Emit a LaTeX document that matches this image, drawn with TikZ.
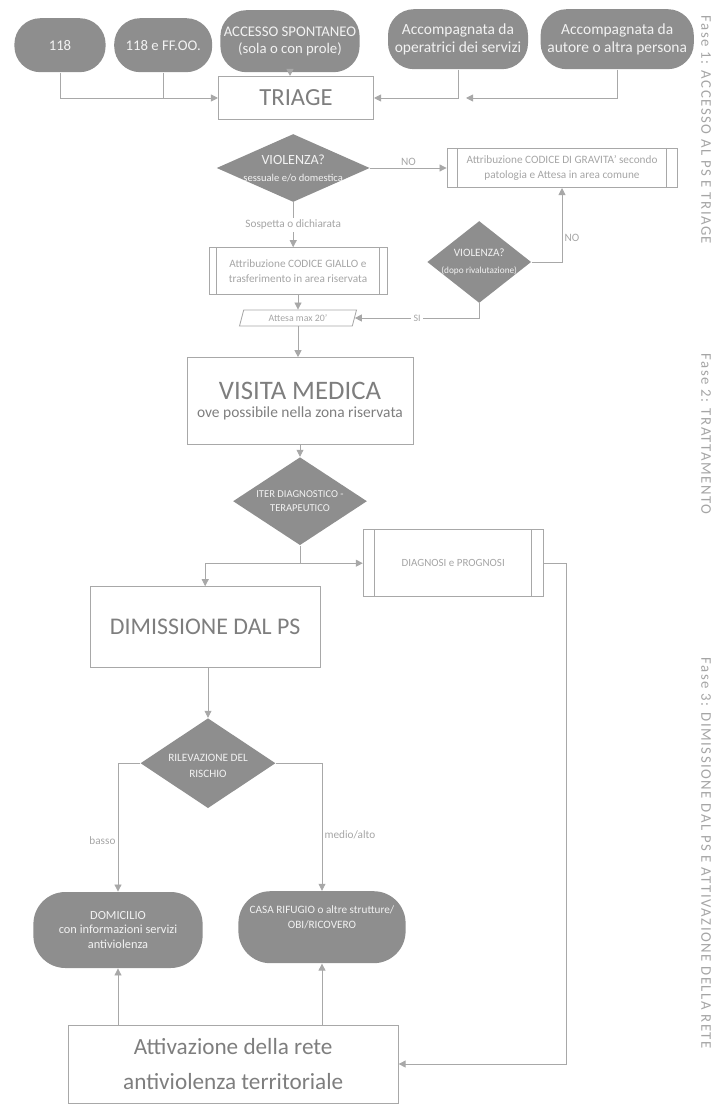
\documentclass[tikz,border=0pt]{standalone}
\usepackage{fontspec}
\setmainfont{Carlito}
\newfontfamily\fasefont[LetterSpace=10]{Carlito}
\usetikzlibrary{arrows.meta,positioning,shapes.geometric,calc}
\definecolor{pillColor}{HTML}{8E8E8E}
\definecolor{pillText}{HTML}{F2F2F2}
\definecolor{lineColor}{HTML}{A8A8A8}
\definecolor{boxText}{HTML}{7E7E7E}
\definecolor{faintText}{HTML}{A5A5A5}
\tikzset{
	pill/.style={fill=pillColor, rounded corners=6.5mm, text=pillText, align=center,
		inner sep=0pt, font=\fontsize{10.5}{12.5}\selectfont},
	box/.style={draw=lineColor, text=boxText, align=center, inner sep=0pt},
	proc/.style={box, text=faintText, font=\fontsize{8}{10.5}\selectfont},
	dec/.style={diamond, fill=pillColor, inner sep=0pt},
	dectext/.style={text=pillText, align=center, inner sep=0pt},
	lbl/.style={text=faintText, font=\fontsize{8}{9}\selectfont, inner sep=1.5pt},
	fase/.style={text=faintText, rotate=-90, font=\fasefont\fontsize{10.5}{12}\selectfont}
}

\begin{document}
\begin{tikzpicture}[->,>={Triangle[length=5pt,width=5pt]},draw=lineColor,line width=0.6pt]
	\useasboundingbox (0,0) rectangle (18.125,-27.75);
	% accessi
	\node[pill, minimum width=2.28cm, minimum height=1.35cm] (p1) at (1.5, -1.13) {118};
	\node[pill, minimum width=2.45cm, minimum height=1.35cm] (p2) at (4.08, -1.13) {118 e FF.OO.};
	\node[pill, minimum width=3.48cm, minimum height=1.55cm] (p3) at (7.25, -1.03) {ACCESSO SPONTANEO\\(sola o con prole)};
	\node[pill, minimum width=3.5cm, minimum height=1.5cm, font=\fontsize{11}{13}\selectfont] (p4) at (11.45, -0.98) {Accompagnata da\\operatrici dei servizi};
	\node[pill, minimum width=3.83cm, minimum height=1.5cm, font=\fontsize{11}{13}\selectfont] (p5) at (15.43, -0.98) {Accompagnata da\\autore o altra persona};
	\node[box, minimum width=3.88cm, minimum height=1.08cm, font=\fontsize{17.5}{20}\selectfont] (triage) at (7.4, -2.45) {TRIAGE};
	\draw[-] (p2.south) -- (p2.south |- triage.west);
	\draw (p1.south) |- (triage.west);
	\draw (p3.south) -- (p3.south |- triage.north);
	\draw (p5.south) |- ($(p4.south |- triage.east)+(0.2,0)$);
	\draw (p4.south) |- (triage.east);
	% fase 1
	\node[dec, minimum width=3.83cm, minimum height=1.7cm] (viol) at (7.33, -4.2) {};
	\node[dectext] (viol_t) at (viol) {{\fontsize{10}{11.5}\selectfont VIOLENZA?}\\{\fontsize{7.5}{9}\selectfont sessuale e/o domestica}};
	\node[proc, minimum width=5.75cm, minimum height=0.98cm] (grav) at (14.05, -4.2) {Attribuzione CODICE DI GRAVITA' secondo\\patologia e Attesa in area comune};
	\node[proc, minimum width=4.45cm, minimum height=1.18cm] (giallo) at (7.45, -6.78) {Attribuzione CODICE GIALLO e\\trasferimento in area riservata};
	\node[dec, minimum width=2.6cm, minimum height=2.05cm] (viol2) at (11.98, -6.55) {};
	\node[dectext] (viol2_t) at (viol2) {{\fontsize{8}{9.5}\selectfont VIOLENZA?}\\{\fontsize{6.6}{8.5}\selectfont (dopo rivalutazione)}};
	\node[box, trapezium, trapezium left angle=72, trapezium right angle=108, trapezium stretches=true,
		minimum width=2.93cm, minimum height=0.4cm, text=faintText, font=\fontsize{7}{8}\selectfont] (attesa) at (7.45, -7.95) {Attesa max 20'};
	\foreach \b/\d in {grav/0.28, giallo/0.2} {
		\draw[-] ([xshift=\d cm]\b.north west) -- ([xshift=\d cm]\b.south west);
		\draw[-] ([xshift=-\d cm]\b.north east) -- ([xshift=-\d cm]\b.south east);
	}
	\path (viol.east) edge node[lbl, above] {NO} (grav.west);
	\draw (viol.south) -- node[lbl, fill=white] {Sospetta o dichiarata} (viol.south |- giallo.north);
	\draw (giallo.south -| attesa.north) -- (attesa.north);
	\draw (viol2.east) -| node[lbl, right, pos=0.66] {NO} (grav.south);
	\draw (viol2.south) |- node[lbl, fill=white, pos=0.75, font=\fontsize{7}{8}\selectfont] {SI} (attesa.east);
	% fase 2
	\node[box, minimum width=5.65cm, minimum height=2.18cm] (visita) at (7.5, -10.03) {{\fontsize{19}{22}\selectfont VISITA MEDICA}\\[1pt]{\fontsize{11}{13}\selectfont ove possibile nella zona riservata}};
	\draw (attesa.south) -- (attesa.south |- visita.north);
	\node[dec, minimum width=3.35cm, minimum height=2.2cm] (iter) at (7.5, -12.53) {};
	\node[dectext, font=\fontsize{7.5}{10}\selectfont] (iter_t) at (iter) {ITER DIAGNOSTICO -\\TERAPEUTICO};
	\draw (visita.south) -- (iter.north);
	\node[proc, minimum width=4.5cm, minimum height=1.68cm, font=\fontsize{7.8}{9}\selectfont] (diagn) at (11.33, -14.08) {DIAGNOSI e PROGNOSI};
	\draw[-] ([xshift=0.3cm]diagn.north west) -- ([xshift=0.3cm]diagn.south west);
	\draw[-] ([xshift=-0.3cm]diagn.north east) -- ([xshift=-0.3cm]diagn.south east);
	\coordinate (split) at (iter.south |- diagn.west);
	\node[box, minimum width=5.75cm, minimum height=2.03cm, font=\fontsize{17}{20}\selectfont] (dimis) at (5.13, -15.68) {DIMISSIONE DAL PS};
	\draw[-] (iter.south) -- (split);
	\draw (split) -- (diagn.west);
	\draw (split) -| (dimis.north);
	% fase 3
	\node[dec, minimum width=3.38cm, minimum height=2.25cm] (risk) at (5.2, -19.08) {};
	\node[dectext, font=\fontsize{8}{11}\selectfont] (risk_t) at ([yshift=-2pt]risk.center) {RILEVAZIONE DEL\\RISCHIO};
	\draw (dimis.south -| risk.north) -- (risk.north);
	\node[pill, minimum width=4.23cm, minimum height=1.9cm, rounded corners=8mm, font=\fontsize{8.8}{10.5}\selectfont] (domic) at (2.95, -23.25) {DOMICILIO\\con informazioni servizi\\antiviolenza};
	\node[pill, minimum width=4.18cm, minimum height=1.8cm, rounded corners=8mm, font=\fontsize{8}{10.5}\selectfont] (casa) at (8.05, -23.18) {CASA RIFUGIO o altre strutture/\\OBI/RICOVERO\\[4pt]};
	\draw (risk.west) -| node[lbl, left, pos=0.8] {basso} (domic.north);
	\draw (risk.east) -| node[lbl, right, pos=0.78] {medio/alto} (casa.north);
	\node[box, minimum width=8.25cm, minimum height=1.95cm, font=\fontsize{16.5}{25}\selectfont] (attiv) at (5.83, -26.6) {Attivazione della rete\\antiviolenza territoriale};
	\draw (domic.south |- attiv.north) -- (domic.south);
	\draw (casa.south |- attiv.north) -- (casa.south);
	\draw (diagn.east) -- ++(0.57,0) |- (attiv.east);
	% fasi
	\node[fase] (fase1) at (17.65, -3.25) {Fase 1: ACCESSO AL PS E TRIAGE};
	\node[fase] (fase2) at (17.65, -10.85) {Fase 2: TRATTAMENTO};
	\node[fase] (fase3) at (17.65, -21.33) {Fase 3: DIMISSIONE DAL PS E ATTIVAZIONE DELLA RETE};
\end{tikzpicture}
\end{document}
